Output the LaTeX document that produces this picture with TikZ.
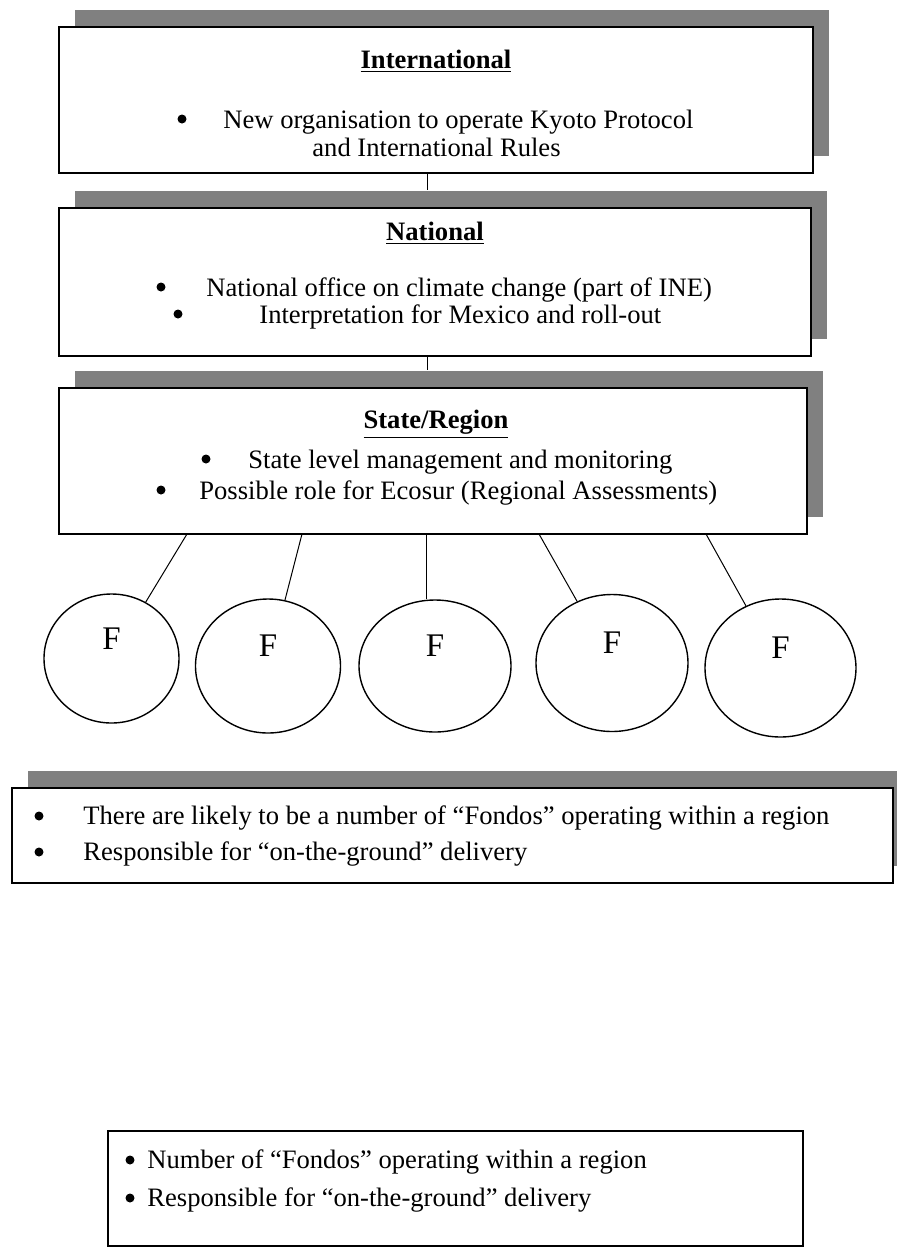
\documentclass[tikz,border=0pt]{standalone}
\usepackage{fontspec}
\setmainfont{Liberation Serif}
\usetikzlibrary{shapes.geometric,shadows,calc}

\definecolor{shadowgray}{HTML}{808080}
\newcommand{\tsz}{\fontsize{13.3}{16}\selectfont}
\newcommand{\fsz}{\fontsize{16.5}{19}\selectfont}

\begin{document}
\begin{tikzpicture}[x=0.5pt,y=-0.5pt,
    tier/.style={draw, line width=0.6pt, fill=white, inner sep=0pt,
        general shadow={shadow xshift=8pt, shadow yshift=8.5pt, fill=shadowgray}},
    notebox/.style={draw, line width=0.6pt, fill=white, inner sep=0pt},
    fondo/.style={ellipse, draw, line width=0.7pt, inner sep=0pt,
        label={[font=\fsz, inner sep=0pt, yshift=10pt]center:F}},
    head/.style={font=\tsz\bfseries, inner sep=0pt},
    ln/.style={font=\tsz, anchor=west, inner sep=0pt},
    bul/.style={circle, fill, inner sep=0pt, minimum size=4.5pt},
    link/.style={line width=0.5pt}]
    \useasboundingbox (0,0) rectangle (897,1249);

    % the three tiers, each with its grey shadow
    \node[tier, minimum width=377pt, minimum height=73pt] (intl) at (436,100) {};
    \node[tier, minimum width=376pt, minimum height=74pt] (natl) at (435,282) {};
    \node[tier, minimum width=374pt, minimum height=73pt] (state) at (433,461) {};

    \node[head] (intlh) at (436,61) {\underline{International}};
    \node[bul] (intlb1) at (182,119) {};
    \node[ln] (intl1) at (223,122) {New organisation to operate Kyoto Protocol};
    \node[ln] (intl2) at (312,147) {and International Rules};

    \node[head] (natlh) at (435,233) {\underline{National}};
    \node[bul] (natlb1) at (161,287) {};
    \node[ln] (natl1) at (206,290) {National office on climate change (part of INE)};
    \node[bul] (natlb2) at (178,314) {};
    \node[ln] (natl2) at (259,317) {Interpretation for Mexico and roll-out};

    \node[head] (stateh) at (436,424) {\underline{State/Region}};
    \node[bul] (stateb1) at (206,459) {};
    \node[ln] (state1) at (248,462) {State level management and monitoring};
    \node[bul] (stateb2) at (161,490) {};
    \node[ln] (state2) at (199,493) {Possible role for Ecosur (Regional Assessments)};

    % links between the tiers
    \coordinate (k) at (427,0);
    \draw[link] (intl.south -| k) -- ($(natl.north -| k)+(0,-17)$);
    \draw[link] (natl.south -| k) -- ($(state.north -| k)+(0,-17)$);

    % the Fondos
    \node[fondo, minimum width=67.5pt, minimum height=64.5pt] (f1) at (111.5,658.5) {};
    \node[fondo, minimum width=72.5pt, minimum height=67pt] (f2) at (268,666) {};
    \node[fondo, minimum width=76pt, minimum height=66pt] (f3) at (435,666) {};
    \node[fondo, minimum width=76pt, minimum height=68.5pt] (f4) at (612,663) {};
    \node[fondo, minimum width=75.5pt, minimum height=69pt] (f5) at (780.5,668) {};

    \coordinate (c1) at (187,534);
    \coordinate (c2) at (302,534);
    \coordinate (c3) at (426,534);
    \coordinate (c4) at (539,534);
    \coordinate (c5) at (706,534);
    \draw[link] (c1) -- (f1);
    \draw[link] (c2) -- (f2);
    \draw[link] (c3) -- (c3 |- f3.north);
    \draw[link] (c4) -- (f4);
    \draw[link] (c5) -- (f5);

    % notes under the Fondos
    \node[tier, minimum width=440.5pt, minimum height=47.5pt] (fnote) at (452.5,835.5) {};
    \node[bul] (fnoteb1) at (39,816) {};
    \node[ln] (fnote1) at (83,818) {There are likely to be a number of ``Fondos'' operating within a region};
    \node[bul] (fnoteb2) at (39,852) {};
    \node[ln] (fnote2) at (83,854) {Responsible for ``on-the-ground'' delivery};

    \node[notebox, minimum width=347.5pt, minimum height=57.5pt] (note) at (455.5,1188.5) {};
    \node[bul] (noteb1) at (130,1160) {};
    \node[ln] (note1) at (147,1162) {Number of ``Fondos'' operating within a region};
    \node[bul] (noteb2) at (130,1198) {};
    \node[ln] (note2) at (147,1200) {Responsible for ``on-the-ground'' delivery};
\end{tikzpicture}
\end{document}
